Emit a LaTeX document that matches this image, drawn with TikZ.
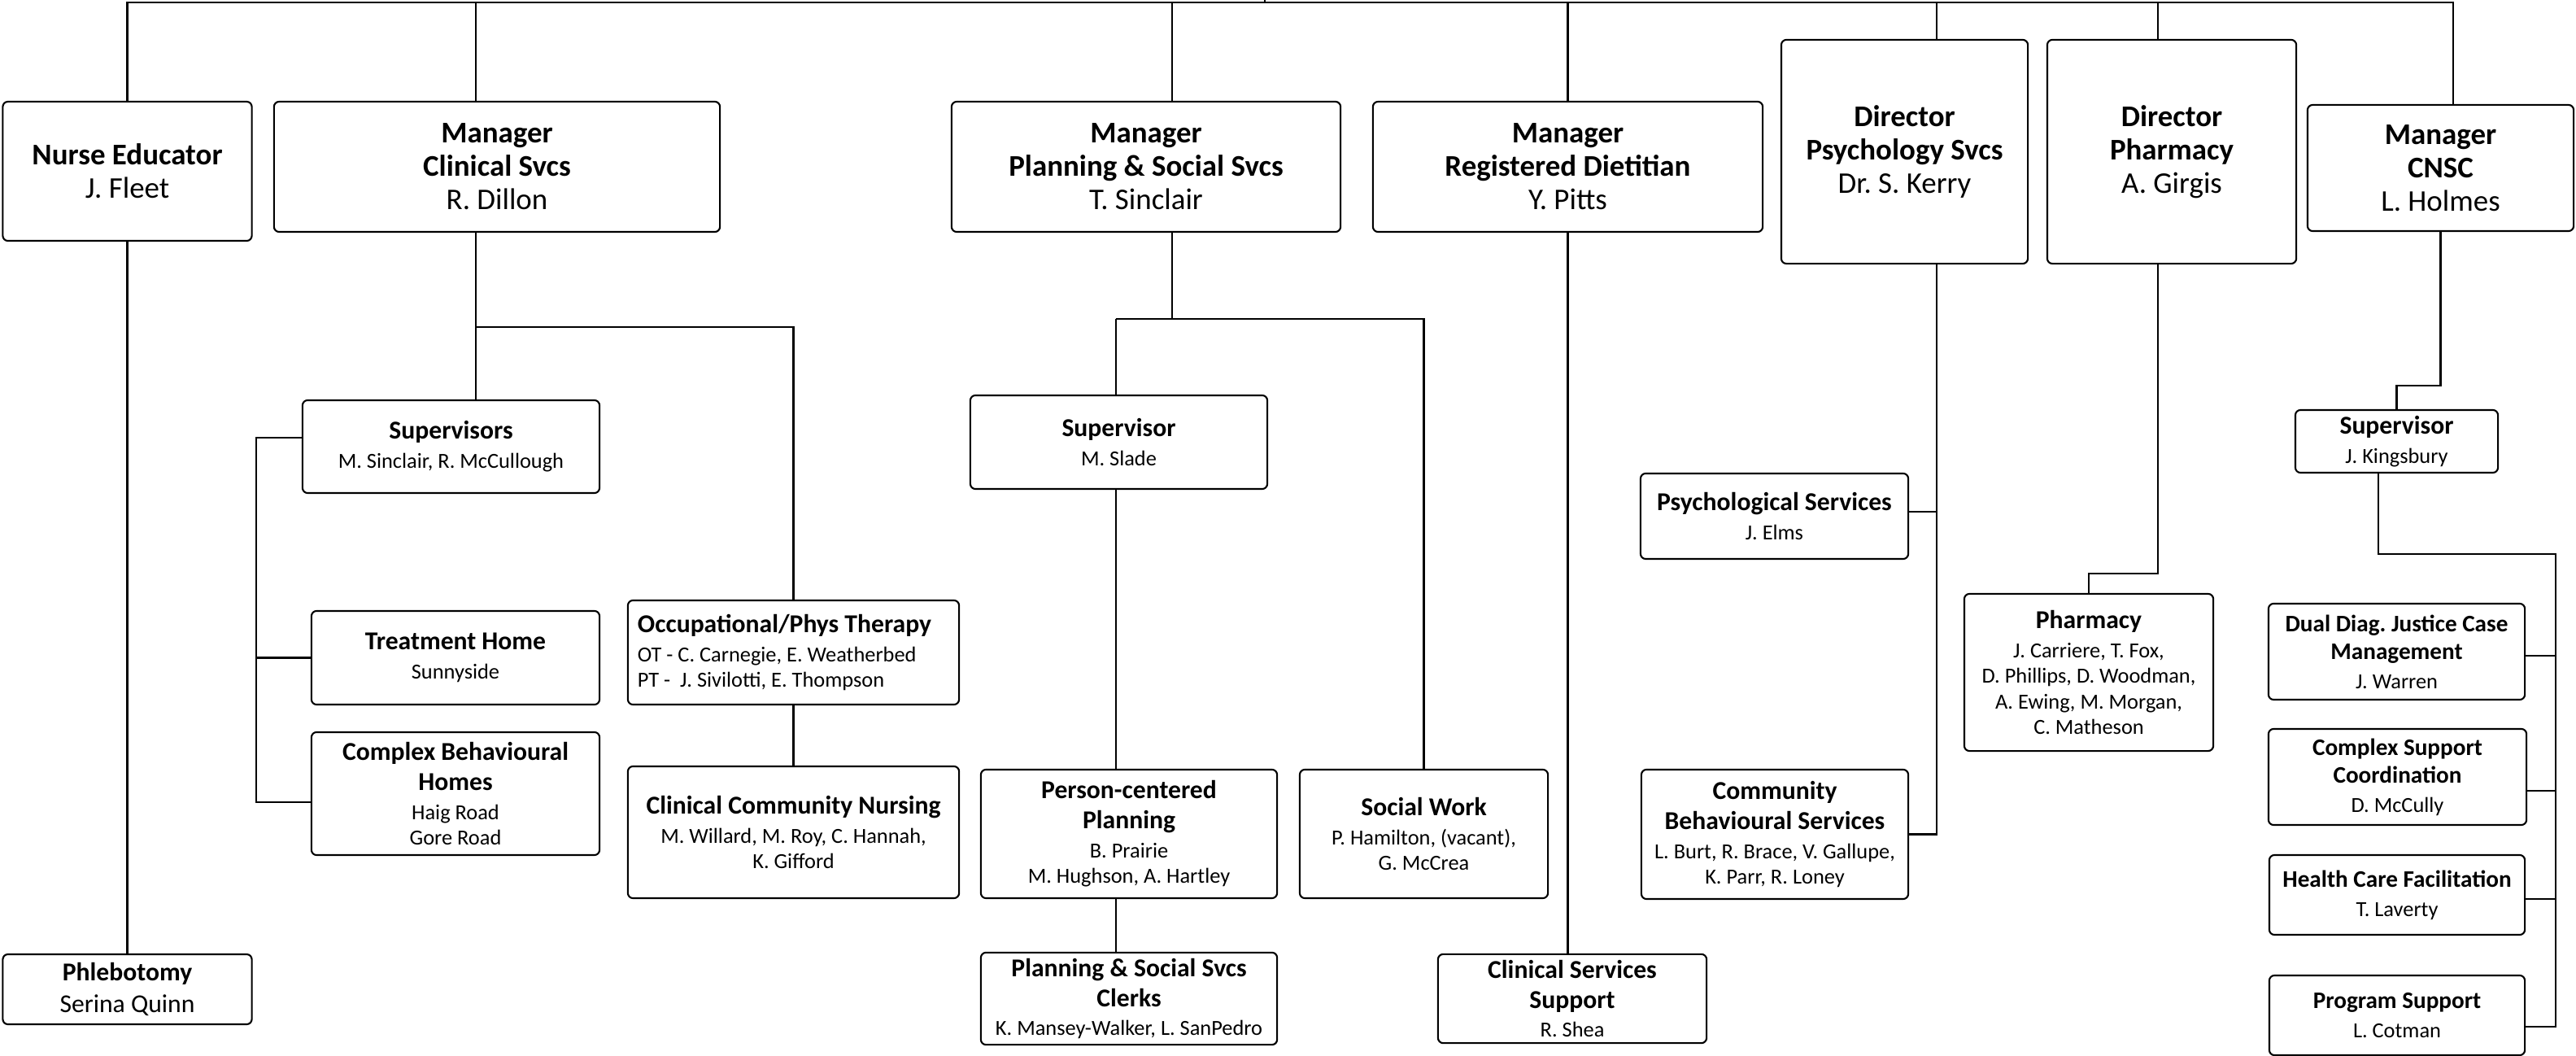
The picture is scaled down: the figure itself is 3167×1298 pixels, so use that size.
\documentclass[tikz,border=0pt]{standalone}
\usepackage{fontspec}
\setmainfont{Carlito}
\usepackage{tikz}
\frenchspacing
\tikzset{%
  unit/.style={
    draw,
    rounded corners=1.8pt,
    align=flush center,
    inner xsep=0pt,
    inner ysep=2pt
  },
  unit left/.style={
    align=flush left,
    inner xsep=0.12cm
  },
}
\newcommand\headttl[1]{{\fontsize{10.5}{11.7}\selectfont\bfseries #1\par}}
\newcommand\headname[1]{{\fontsize{10.5}{11.7}\selectfont #1\par}}
\newcommand\unitttl[1]{{\fontsize{9}{10.5}\selectfont\bfseries #1\par}}
\newcommand\unitname[1]{{\fontsize{7.5}{8.9}\selectfont\vspace{1.3pt}#1\par}}
\newcommand\bigname[1]{{\fontsize{9}{10.8}\selectfont\vspace{0.5pt}#1\par}}
\newcommand\progttl[1]{{\fontsize{8.3}{9.7}\selectfont\bfseries #1\par}}

\begin{document}
\begin{tikzpicture}[x=0.01cm, y=-0.01cm, line width=0.6pt]
\useasboundingbox (0,0) rectangle (3167,1298);

% top row
\node [unit, text width=3.06cm, minimum height=1.71cm] (nurse) at (156.5,210.5)
  {\headttl{Nurse Educator}\headname{J. Fleet}};
\node [unit, text width=5.48cm, minimum height=1.60cm] (clin) at (611,205)
  {\headttl{Manager\\Clinical Svcs}\headname{R. Dillon}};
\node [unit, text width=4.78cm, minimum height=1.60cm] (plan) at (1409,205)
  {\headttl{Manager\\Planning \& Social Svcs}\headname{T. Sinclair}};
\node [unit, text width=4.79cm, minimum height=1.60cm] (diet) at (1927.5,205)
  {\headttl{Manager\\Registered Dietitian}\headname{Y. Pitts}};
\node [unit, text width=3.03cm, minimum height=2.75cm] (psy) at (2341.5,186.5)
  {\headttl{Director\\Psychology Svcs}\headname{Dr. S. Kerry}};
\node [unit, text width=3.06cm, minimum height=2.75cm] (pharm) at (2670,186.5)
  {\headttl{Director\\Pharmacy}\headname{A. Girgis}};
\node [unit, text width=3.27cm, minimum height=1.55cm] (cnsc) at (3000.5,206.5)
  {\headttl{Manager\\CNSC}\headname{L. Holmes}};

% clinical svcs
\node [unit, text width=3.06cm, minimum height=0.86cm] (phleb) at (156.5,1216)
  {\unitttl{Phlebotomy}\bigname{Serina Quinn}};
\node [unit, text width=3.65cm, minimum height=1.14cm] (sup) at (554.5,549)
  {\unitttl{Supervisors}\unitname{M. Sinclair, R. McCullough}};
\node [unit, text width=3.54cm, minimum height=1.15cm] (treat) at (560,808.5)
  {\unitttl{Treatment Home}\unitname{Sunnyside}};
\node [unit, text width=3.54cm, minimum height=1.51cm] (cbh) at (560,975.5)
  {\unitttl{Complex Behavioural\\Homes}\unitname{Haig Road\\Gore Road}};
\node [unit, unit left, text width=3.83cm, minimum height=1.28cm] (ot) at (975.5,802)
  {\unitttl{Occupational/Phys Therapy}\unitname{OT - C. Carnegie, E. Weatherbed\\PT -\ \ J. Sivilotti, E. Thompson}};
\node [unit, text width=4.07cm, minimum height=1.62cm] (ccn) at (975.5,1023)
  {\unitttl{Clinical Community Nursing}\unitname{M. Willard, M. Roy, C. Hannah,\\K. Gifford}};

% planning & social svcs
\node [unit, text width=3.65cm, minimum height=1.15cm] (slade) at (1375.5,543.5)
  {\unitttl{Supervisor}\unitname{M. Slade}};
\node [unit, text width=3.64cm, minimum height=1.58cm] (pcp) at (1388,1025)
  {\unitttl{Person-centered\\Planning}\unitname{B. Prairie\\M. Hughson, A. Hartley}};
\node [unit, text width=3.64cm, minimum height=1.05cm] (clerks) at (1388,1227.5)
  {\unitttl{Planning \& Social Svcs\\Clerks}\unitname{K. Mansey-Walker, L. SanPedro}};
\node [unit, text width=3.05cm, minimum height=1.58cm] (sw) at (1750.5,1025)
  {\unitttl{Social Work}\unitname{P. Hamilton, (vacant),\\G. McCrea}};

% dietitian, psychology, pharmacy
\node [unit, text width=3.30cm, minimum height=1.05cm] (css) at (1933,1227.5)
  {\unitttl{Clinical Services\\Support}\unitname{R. Shea}};
\node [unit, text width=3.29cm, minimum height=1.05cm] (psysvc) at (2181.5,634.5)
  {\unitttl{Psychological Services}\unitname{J. Elms}};
\node [unit, text width=3.28cm, minimum height=1.59cm] (cbs) at (2182,1025.5)
  {\unitttl{Community\\Behavioural Services}\unitname{L. Burt, R. Brace, V. Gallupe,\\K. Parr, R. Loney}};
\node [unit, text width=3.06cm, minimum height=1.93cm] (pharmacy) at (2568,826.5)
  {\unitttl{Pharmacy}\unitname{J. Carriere, T. Fox,\\D. Phillips, D. Woodman,\\A. Ewing, M. Morgan,\\C. Matheson}};

% cnsc
\node [unit, text width=2.49cm, minimum height=0.77cm] (king) at (2946.5,542.5)
  {\unitttl{Supervisor}\unitname{J. Kingsbury}};
\node [unit, text width=3.15cm, minimum height=1.18cm] (ddj) at (2946.5,801)
  {\progttl{Dual Diag. Justice Case\\Management}\unitname{J. Warren}};
\node [unit, text width=3.17cm, minimum height=1.18cm] (csc) at (2947.5,955)
  {\progttl{Complex Support\\Coordination}\unitname{D. McCully}};
\node [unit, text width=3.14cm, minimum height=0.98cm] (hcf) at (2947,1100)
  {\progttl{Health Care Facilitation}\unitname{T. Laverty}};
\node [unit, text width=3.14cm, minimum height=0.98cm] (ps) at (2947,1248)
  {\progttl{Program Support}\unitname{L. Cotman}};

% connector points
\coordinate (root) at (1555,3);
\path (clin.north) ++(-26,0) coordinate (clin-t);
\path (clin.south) ++(-26,0) coordinate (clin-b);
\path (plan.north) ++(32,0) coordinate (plan-t);
\path (plan.south) ++(32,0) coordinate (plan-b);
\path (psy.north) ++(39.5,0) coordinate (psy-t);
\path (psy.south) ++(39.5,0) coordinate (psy-b);
\path (pharm.north) ++(-17,0) coordinate (pharm-t);
\path (pharm.south) ++(-17,0) coordinate (pharm-b);
\path (cnsc.north) ++(15.5,0) coordinate (cnsc-t);

% top bus
\draw (root) -- ++(0,-3);
\draw (nurse.north) |- (root) -| (cnsc-t);
\foreach \n in {clin-t,plan-t,diet.north,psy-t,pharm-t}
  \draw (\n) -- (\n |- root);

\draw (nurse.south) -- (phleb.north);

% clinical svcs
\path (clin-b) ++(0,116) coordinate (clin-j);
\draw (clin-b) -- (clin-b |- sup.north);
\draw (clin-j) -| (ot.north);
\draw (ot.south) -- (ccn.north);
\path (sup.west) ++(0,-11) coordinate (sup-l);
\path (sup-l) ++(-56,0) coordinate (sup-bus);
\path (cbh.west) ++(0,10.5) coordinate (cbh-l);
\draw (sup-l) -- (sup-bus) |- (cbh-l);
\draw (sup-bus |- treat.west) -- (treat.west);

% planning & social svcs
\path (plan-b) ++(0,106) coordinate (plan-j);
\path (slade.north) ++(-3.5,0) coordinate (slade-t);
\draw (plan-b) -- (plan-j);
\draw (slade-t |- plan-j) -| (sw.north);
\draw (slade-t |- plan-j) -- (slade-t);
\draw (slade-t |- slade.south) -- (slade-t |- pcp.north);
\draw (slade-t |- pcp.south) -- (slade-t |- clerks.north);

% dietitian
\draw (diet.south) -- (diet.south |- css.north);

% psychology
\path (psysvc.east) ++(0,-5.5) coordinate (psysvc-r);
\draw (psy-b) |- (cbs.east);
\draw (psysvc-r) -- (psysvc-r -| psy-b);

% pharmacy
\path (pharm-b) ++(0,380) coordinate (pharm-j);
\draw (pharm-b) -- (pharm-j) -| (pharmacy.north);

% cnsc
\path (cnsc.south) ++(0,189) coordinate (cnsc-j);
\draw (cnsc.south) -- (cnsc-j) -| (king.north);
\path (king.south) ++(-22.5,0) coordinate (king-b);
\path (king-b) ++(0,99) coordinate (king-j);
\path (king-j) ++(218,0) coordinate (cnsc-bus);
\path (ps.east) ++(0,14) coordinate (ps-r);
\draw (king-b) -- (king-j) -- (cnsc-bus) |- (ps-r);
\foreach \n/\d in {ddj/5,csc/17,hcf/5} {
  \path (\n.east) ++(0,\d) coordinate (\n-r);
  \draw (\n-r) -- (\n-r -| cnsc-bus);
}

\end{tikzpicture}
\end{document}
